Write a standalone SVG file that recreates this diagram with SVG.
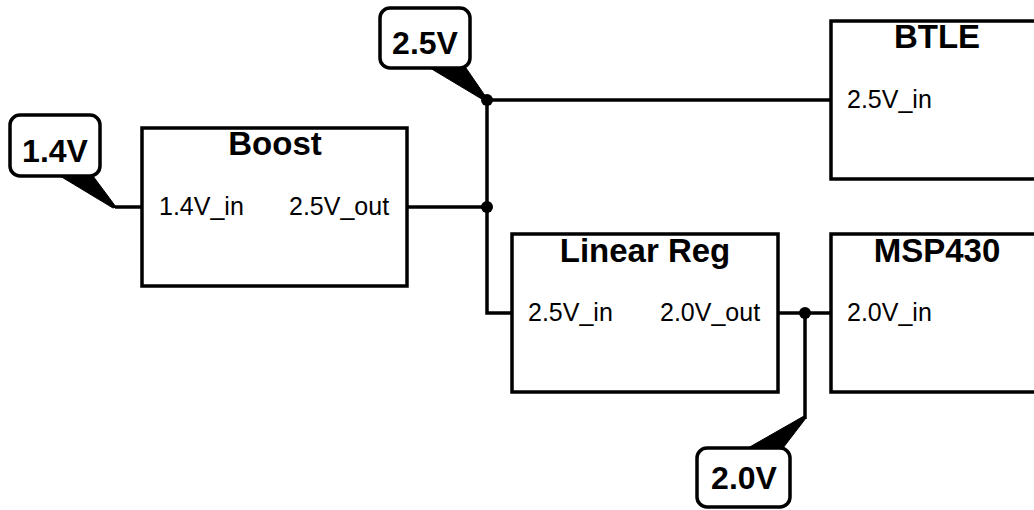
<svg xmlns="http://www.w3.org/2000/svg" width="1034" height="510" viewBox="0 0 1034 510">
<style>
.box{fill:#fff;stroke:#000;stroke-width:3.5}
.title{font-family:"Liberation Sans",Arial,sans-serif;font-weight:bold;font-size:33px;text-anchor:middle;fill:#000}
.port{font-family:"Liberation Sans",Arial,sans-serif;font-size:25px;fill:#000}
.wire{fill:none;stroke:#000;stroke-width:3.5}
.dot{fill:#000}
.tag{fill:#fff;stroke:#000;stroke-width:3.5}
.tail{fill:#000;stroke:#000;stroke-width:1}
.tagtext{font-family:"Liberation Sans",Arial,sans-serif;font-weight:bold;font-size:32px;text-anchor:middle;fill:#000}
</style>
<rect width="1034" height="510" fill="#fff"/>
<g id="connectors">
<polyline class="wire" points="115,207 142,207"/>
<polyline class="wire" points="407,207 487,207"/>
<polyline class="wire" points="487,100 831,100"/>
<polyline class="wire" points="487,100 487,313 512,313"/>
<polyline class="wire" points="778,313 831,313"/>
<polyline class="wire" points="805,313 805,419"/>
<circle class="dot" cx="487" cy="100" r="6"/>
<circle class="dot" cx="487" cy="207" r="6"/>
<circle class="dot" cx="805" cy="313" r="6"/>
</g>
<g id="boost">
<rect class="box" x="142" y="128" width="265" height="158"/>
<text class="title" x="275" y="155">Boost</text>
<text class="port" x="159" y="215">1.4V_in</text>
<text class="port" x="289" y="215">2.5V_out</text>
</g>
<g id="linear-reg">
<rect class="box" x="512" y="234" width="266" height="158"/>
<text class="title" x="645" y="262">Linear Reg</text>
<text class="port" x="528" y="321">2.5V_in</text>
<text class="port" x="660" y="321">2.0V_out</text>
</g>
<g id="btle">
<rect class="box" x="831" y="21" width="212" height="158"/>
<text class="title" x="937" y="48">BTLE</text>
<text class="port" x="847" y="108">2.5V_in</text>
</g>
<g id="msp430">
<rect class="box" x="831" y="234" width="212" height="158"/>
<text class="title" x="937" y="262">MSP430</text>
<text class="port" x="847" y="321">2.0V_in</text>
</g>
<g id="label-1.4V">
<polygon class="tail" points="60,176 93,176 116,207 113,208"/>
<rect class="tag" x="10" y="115" width="90" height="61" rx="10"/>
<text class="tagtext" x="55" y="162">1.4V</text>
</g>
<g id="label-2.5V">
<polygon class="tail" points="430,68 466,68 488,100 485,101"/>
<rect class="tag" x="380" y="8" width="90" height="60" rx="10"/>
<text class="tagtext" x="425" y="54">2.5V</text>
</g>
<g id="label-2.0V">
<polygon class="tail" points="748,448 783,448 806,418 804,416"/>
<rect class="tag" x="697" y="448" width="93" height="59" rx="10"/>
<text class="tagtext" x="744" y="489">2.0V</text>
</g>
</svg>
